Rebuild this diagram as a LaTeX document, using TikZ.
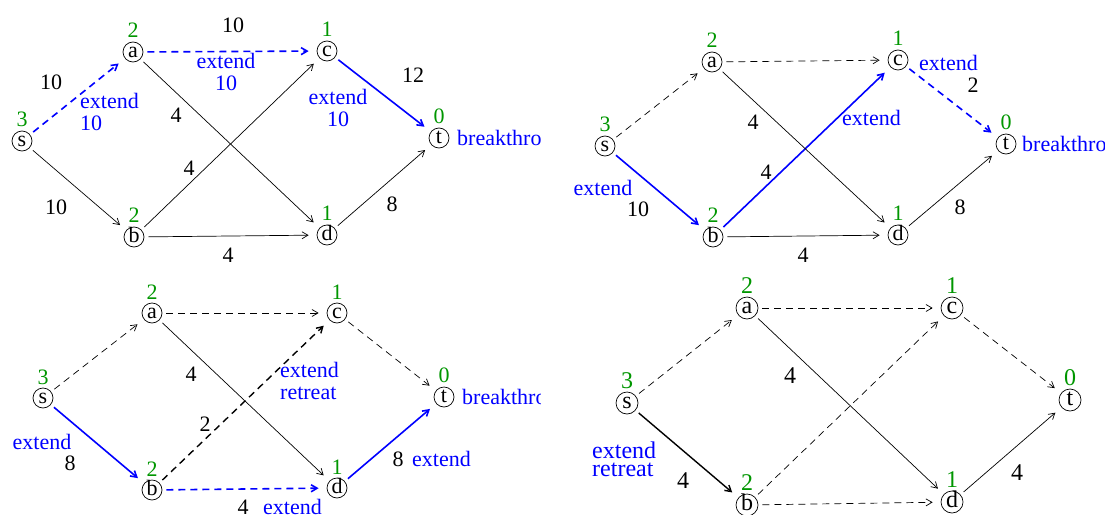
\documentclass[tikz,border=0pt]{standalone}
\usepackage{fontspec}
\setmainfont{Liberation Serif}
\usetikzlibrary{arrows.meta,calc}
\definecolor{lvlgreen}{RGB}{0,150,0}
\tikzset{
  every node/.style={font=\fontsize{22}{22}\selectfont},
  v/.style={circle,draw,line width=0.7pt,minimum size=20pt,inner sep=0pt,
    text height=10pt,text depth=0pt},
  lvl/.style={text=lvlgreen,inner sep=0pt,text height=15pt,text depth=0pt},
  e/.style={-{Straight Barb[length=6pt,width=7pt]},line width=0.7pt,
    shorten <=4pt,shorten >=8pt},
  dsh/.style={dash pattern=on 7pt off 5pt},
  hl/.style={draw=blue,line width=1.6pt},
  thk/.style={line width=1.4pt},
  lab/.style={inner sep=0pt},
  bl/.style={text=blue,inner sep=0pt,align=left},
}
\begin{document}
\begin{tikzpicture}[x=1pt,y=-1pt]
\useasboundingbox (0,0) rectangle (1105,514);

% ---------------- Panel 1 ----------------
\node[v] (s1) at (22,141) {s};
\node[v] (a1) at (133,52) {a};
\node[v] (b1) at (134,237) {b};
\node[v] (c1) at (327,51) {c};
\node[v] (d1) at (327,235) {d};
\node[v] (t1) at (439,138) {t};
\node[lvl] (gs1) at ($(s1)+(0,-22)$) {3};
\node[lvl] (ga1) at ($(a1)+(0,-22)$) {2};
\node[lvl] (gb1) at ($(b1)+(0,-22)$) {2};
\node[lvl] (gc1) at ($(c1)+(0,-22)$) {1};
\node[lvl] (gd1) at ($(d1)+(0,-22)$) {1};
\node[lvl] (gt1) at ($(t1)+(0,-22)$) {0};
\draw[e,hl,dsh] (s1) -- (a1);
\draw[e,hl,dsh] (a1) -- (c1);
\draw[e,hl] (c1) -- (t1);
\draw[e] (s1) -- (b1);
\draw[e] (a1) -- (d1);
\draw[e] (b1) -- (c1);
\draw[e] (b1) -- (d1);
\draw[e] (d1) -- (t1);
\node[lab] (l1a) at (51,82) {10};
\node[bl,anchor=west] (l1b) at (80,112) {extend\\10};
\node[lab] (l1c) at (233,25) {10};
\node[bl,align=center] (l1d) at (226,72) {extend\\10};
\node[lab] (l1e) at (176,115) {4};
\node[lab] (l1f) at (189,168) {4};
\node[lab] (l1g) at (56,207) {10};
\node[lab] (l1h) at (228,255) {4};
\node[lab] (l1i) at (413,75) {12};
\node[bl,align=center] (l1j) at (338,108) {extend\\10};
\node[lab] (l1k) at (392,204) {8};
\begin{scope}
\clip (0,0) rectangle (540,514);
\node[bl,anchor=west] (l1l) at (457,138) {breakthro};
\end{scope}

% ---------------- Panel 2 ----------------
\node[v] (s2) at (605,146) {s};
\node[v] (a2) at (712,62) {a};
\node[v] (b2) at (713,237) {b};
\node[v] (c2) at (898,60) {c};
\node[v] (d2) at (898,235) {d};
\node[v] (t2) at (1006,144) {t};
\node[lvl] (gs2) at ($(s2)+(0,-22)$) {3};
\node[lvl] (ga2) at ($(a2)+(0,-22)$) {2};
\node[lvl] (gb2) at ($(b2)+(0,-22)$) {2};
\node[lvl] (gc2) at ($(c2)+(0,-22)$) {1};
\node[lvl] (gd2) at ($(d2)+(0,-22)$) {1};
\node[lvl] (gt2) at ($(t2)+(0,-22)$) {0};
\draw[e,dsh] (s2) -- (a2);
\draw[e,dsh] (a2) -- (c2);
\draw[e,hl,dsh] (c2) -- (t2);
\draw[e,hl] (s2) -- (b2);
\draw[e,hl] (b2) -- (c2);
\draw[e] (a2) -- (d2);
\draw[e] (b2) -- (d2);
\draw[e] (d2) -- (t2);
\node[lab] (l2a) at (753,122) {4};
\node[lab] (l2b) at (766,172) {4};
\node[bl] (l2c) at (603,188) {extend};
\node[lab] (l2d) at (638,209) {10};
\node[lab] (l2e) at (803,255) {4};
\node[bl,anchor=west] (l2f) at (919,63) {extend};
\node[lab] (l2g) at (973,85) {2};
\node[bl,anchor=west] (l2h) at (842,118) {extend};
\node[lab] (l2i) at (960,207) {8};
\node[bl,anchor=west] (l2j) at (1022,144) {breakthro};

% ---------------- Panel 3 ----------------
\node[v] (s3) at (43,398) {s};
\node[v] (a3) at (152,313) {a};
\node[v] (b3) at (152,490) {b};
\node[v] (c3) at (337,313) {c};
\node[v] (d3) at (337,488) {d};
\node[v] (t3) at (444,397) {t};
\node[lvl] (gs3) at ($(s3)+(0,-21)$) {3};
\node[lvl] (ga3) at ($(a3)+(0,-21)$) {2};
\node[lvl] (gb3) at ($(b3)+(0,-21)$) {2};
\node[lvl] (gc3) at ($(c3)+(0,-21)$) {1};
\node[lvl] (gd3) at ($(d3)+(0,-21)$) {1};
\node[lvl] (gt3) at ($(t3)+(0,-22)$) {0};
\draw[e,dsh] (s3) -- (a3);
\draw[e,dsh] (a3) -- (c3);
\draw[e,dsh] (c3) -- (t3);
\draw[e,hl] (s3) -- (b3);
\draw[e,dsh,thk] (b3) -- (c3);
\draw[e] (a3) -- (d3);
\draw[e,hl,dsh] (b3) -- (d3);
\draw[e,hl] (d3) -- (t3);
\node[lab] (l3a) at (191,374) {4};
\node[lab] (l3b) at (205,424) {2};
\node[bl] (l3c) at (42,442) {extend};
\node[lab] (l3d) at (70,463) {8};
\node[lab,anchor=base] (l3e) at (243,514) {4};
\node[bl,anchor=base west] (l3f) at (263,514) {extend};
\node[bl,anchor=west] (l3g) at (280,381) {extend\\retreat};
\node[lab] (l3h) at (398,459) {8};
\node[bl,anchor=west] (l3i) at (412,459) {extend};
\begin{scope}
\clip (0,0) rectangle (540,514);
\node[bl,anchor=west] (l3j) at (462,397) {breakthro};
\end{scope}

% ---------------- Panel 4 ----------------
\begin{scope}[every node/.style={font=\fontsize{24}{18}\selectfont},
  v/.append style={minimum size=22pt,text height=11pt},
  lvl/.append style={text height=16pt}]
\node[v] (s4) at (627,403) {s};
\node[v] (a4) at (747,308) {a};
\node[v] (b4) at (747,505) {b};
\node[v] (c4) at (952,308) {c};
\node[v] (d4) at (952,502) {d};
\node[v] (t4) at (1070,400) {t};
\node[lvl] (gs4) at ($(s4)+(0,-23)$) {3};
\node[lvl] (ga4) at ($(a4)+(0,-23)$) {2};
\node[lvl] (gb4) at ($(b4)+(0,-23)$) {2};
\node[lvl] (gc4) at ($(c4)+(0,-23)$) {1};
\node[lvl] (gd4) at ($(d4)+(0,-23)$) {1};
\node[lvl] (gt4) at ($(t4)+(0,-23)$) {0};
\draw[e,dsh] (s4) -- (a4);
\draw[e,dsh] (a4) -- (c4);
\draw[e,dsh] (c4) -- (t4);
\draw[e,thk] (s4) -- (b4);
\draw[e,dsh] (b4) -- (c4);
\draw[e] (a4) -- (d4);
\draw[e,dsh] (b4) -- (d4);
\draw[e] (d4) -- (t4);
\node[lab] (l4a) at (790,376) {4};
\node[bl,anchor=west] (l4b) at (592,459) {extend\\retreat};
\node[lab] (l4c) at (683,481) {4};
\node[lab] (l4d) at (1017,473) {4};
\end{scope}
\end{tikzpicture}
\end{document}
